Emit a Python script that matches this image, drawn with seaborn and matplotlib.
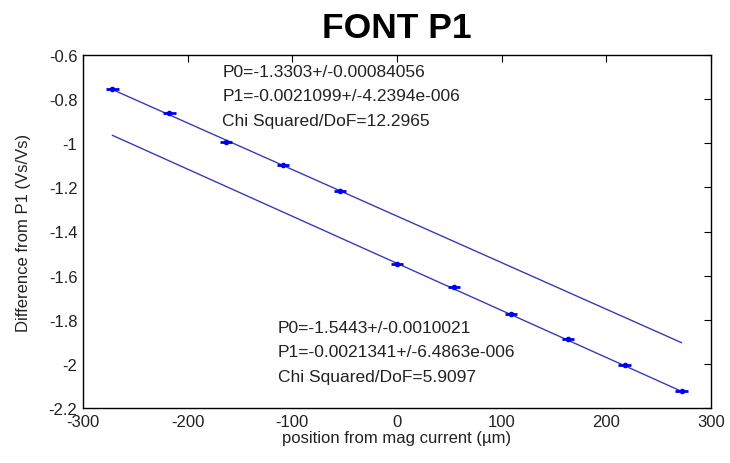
import numpy as np
import pandas as pd
import matplotlib
matplotlib.use("Agg")
import matplotlib.pyplot as plt
import seaborn as sns

# Data
x_upper = [-272.0, -217.6, -163.2, -108.8, -54.4]
y_upper = [-0.755, -0.863, -0.995, -1.100, -1.215]
x_lower = [0.0, 54.4, 108.8, 163.2, 217.6, 272.0]
y_lower = [-1.546, -1.650, -1.775, -1.888, -2.003, -2.125]
xerr_pts = 6.0
yerr_pts = 0.008

fit_x = [-272.0, 272.0]
fit1_p0, fit1_p1 = -1.3303, -0.0021099
fit2_p0, fit2_p1 = -1.5443, -0.0021341

text_upper = ["P0=-1.3303+/-0.00084056", "P1=-0.0021099+/-4.2394e-006", "Chi Squared/DoF=12.2965"]
text_lower = ["P0=-1.5443+/-0.0010021", "P1=-0.0021341+/-6.4863e-006", "Chi Squared/DoF=5.9097"]

xticks = [-300, -200, -100, 0, 100, 200, 300]
yticks = [-2.2, -2, -1.8, -1.6, -1.4, -1.2, -1, -0.8, -0.6]
ytick_labels = ["-2.2", "-2", "-1.8", "-1.6", "-1.4", "-1.2", "-1", "-0.8", "-0.6"]

sns.set_theme(style="white")
plt.rcParams['font.family'] = ['Liberation Sans', 'DejaVu Sans']
plt.rcParams['axes.unicode_minus'] = False

fig = plt.figure(figsize=(7.3, 4.64), dpi=100)
ax = fig.add_axes([83/730, 1 - 409/464, (711-83)/730, (409-56)/464])

line_color = "#3a3ab8"
pt_color = "#0000ee"

fit_df = pd.DataFrame({
    "x": fit_x + fit_x,
    "y": [fit1_p0 + fit1_p1 * v for v in fit_x] + [fit2_p0 + fit2_p1 * v for v in fit_x],
    "fit": ["a", "a", "b", "b"],
})
sns.lineplot(data=fit_df, x="x", y="y", units="fit", estimator=None,
             color=line_color, lw=1.0, ax=ax, legend=False)

for xs, ys in [(x_upper, y_upper), (x_lower, y_lower)]:
    ax.errorbar(xs, ys, xerr=xerr_pts, yerr=yerr_pts, fmt='.', color=pt_color,
                ms=6, elinewidth=2.0, capsize=0, zorder=3)

ax.set_xlim(-300, 300)
ax.set_ylim(-2.2, -0.6)
ax.set_xticks(xticks)
ax.set_xticklabels([str(v) for v in xticks])
ax.set_yticks(yticks)
ax.set_yticklabels(ytick_labels)
ax.tick_params(direction='in', length=5, width=0.8, top=True, right=True,
               labelsize=12, colors='black', pad=4)
ax.tick_params(axis='y', labelcolor='#222222')
ax.tick_params(axis='x', labelcolor='#222222')
for s in ax.spines.values():
    s.set_color('black')
    s.set_linewidth(1.0)

ax.set_xlabel("position from mag current (\u00b5m)", fontsize=12, color='#222222', labelpad=1)
ax.set_ylabel("Difference from P1 (Vs/Vs)", fontsize=12, color='#222222', labelpad=13)
ax.set_title("FONT P1", fontsize=25.5, fontweight='bold', pad=13, color='black')

for i, t in enumerate(text_upper):
    ax.text(-167, -0.673 - i * 0.111, t, fontsize=12.5, va='center', ha='left', color='#222222')
for i, t in enumerate(text_lower):
    ax.text(-114, -1.833 - i * 0.113, t, fontsize=12.5, va='center', ha='left', color='#222222')

ax.set_facecolor('white')
fig.savefig("out.png", dpi=100, facecolor='white')
